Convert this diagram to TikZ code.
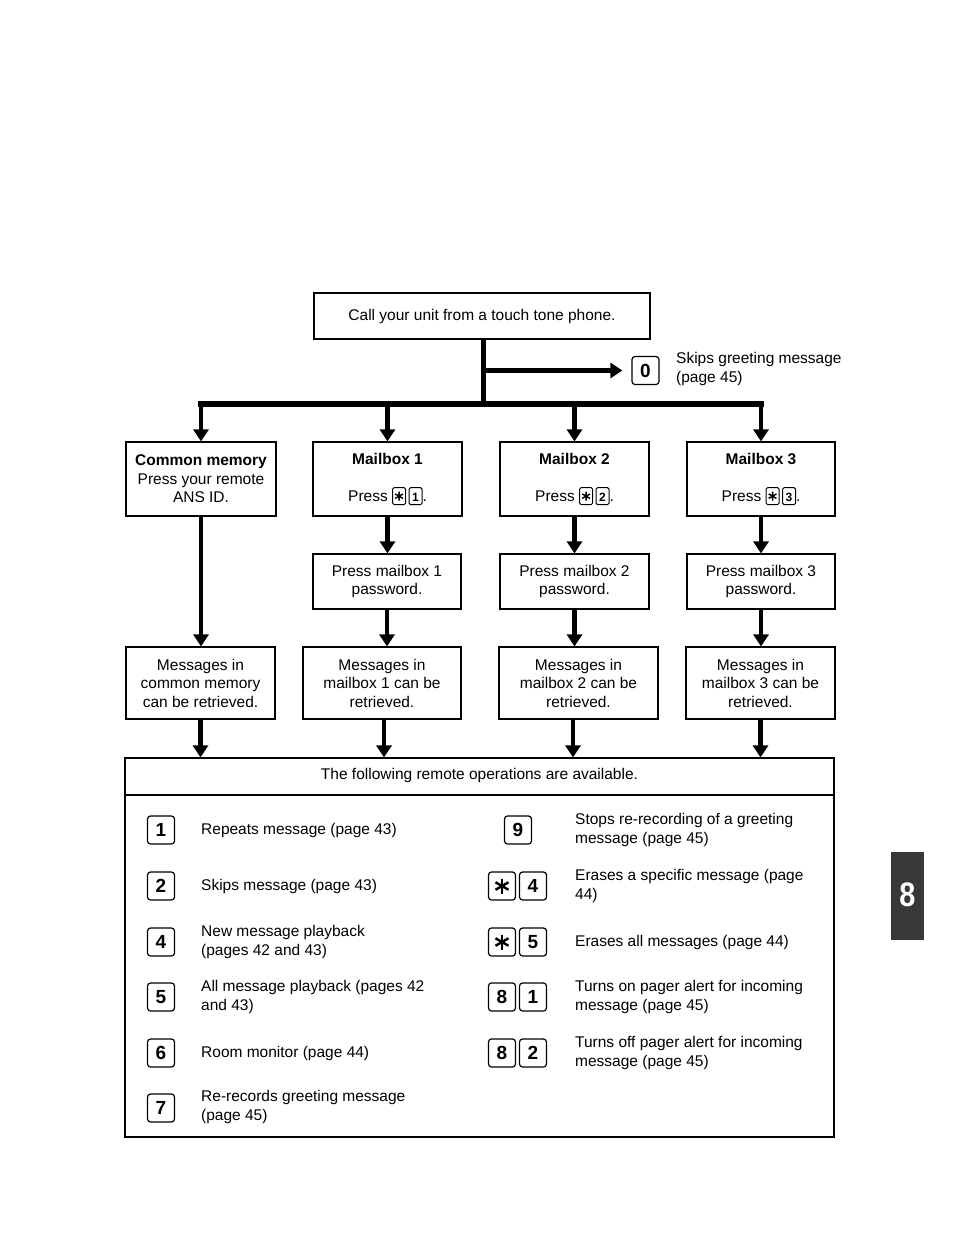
\documentclass[tikz,border=0pt]{standalone}
\usepackage{fontspec}
\setmainfont{Liberation Sans}
\usetikzlibrary{arrows.meta}

\newcommand{\fs}{\fontsize{15.5}{18.5}\selectfont}
\newcommand{\skey}[1]{\raisebox{-4pt}{\tikz[x=1pt,y=1pt]\draw[rounded corners=1.5pt,line width=0.9pt] (0,0) rectangle (13,17);}\hspace{-13.45pt}\makebox[13pt][c]{\bfseries\fontsize{12}{12}\selectfont #1}\hspace{0.45pt}}
\newcommand{\sast}{\raisebox{-4pt}{\tikz[x=1pt,y=1pt]{\draw[rounded corners=1.5pt,line width=0.9pt] (0,0) rectangle (13,17);
 \draw[line width=1.4pt] (6.5,4) -- (6.5,13) (2.6,6.25) -- (10.4,10.75) (2.6,10.75) -- (10.4,6.25);}}}

\begin{document}
\begin{tikzpicture}[x=1pt,y=-1pt,
 box/.style={draw,line width=1.1pt,inner sep=0pt,align=center,font=\fs},
 arr/.style={line width=4.5pt,-{Triangle[width=15pt,length=12pt]}},
 barline/.style={line width=5pt,line cap=rect},
 key/.style={draw,line width=1.2pt,rounded corners=3pt,minimum width=27pt,minimum height=28pt,inner sep=0pt,font=\bfseries\fontsize{19}{19}\selectfont},
 lbl/.style={anchor=west,align=left,font=\fs,inner sep=0pt},
 astline/.style={line width=2.4pt}]

\useasboundingbox (0,0) rectangle (954,1235);

% top
\node[box,minimum width=336pt,minimum height=46pt] (start) at (482,316) {Call your unit from a touch tone phone.};
\coordinate (jn) at (483,370.5);
\coordinate (jb) at (483,404);
\node[key] (k0) at (645.5,370.5) {0};
\node[lbl] (t0) at (676,369) {Skips greeting message\\(page 45)};

% row 1
\node[box,minimum width=150pt,minimum height=74pt] (cm) at (201,479) {\textbf{Common memory}\\Press your remote\\ANS ID.};
\node[box,minimum width=149pt,minimum height=74pt] (mb1) at (387.5,479) {\textbf{Mailbox 1}\\[18.5pt]Press \sast\,\skey{1}.};
\node[box,minimum width=149pt,minimum height=74pt] (mb2) at (574.5,479) {\textbf{Mailbox 2}\\[18.5pt]Press \sast\,\skey{2}.};
\node[box,minimum width=148pt,minimum height=74pt] (mb3) at (761,479) {\textbf{Mailbox 3}\\[18.5pt]Press \sast\,\skey{3}.};

% row 2
\node[box,minimum width=148pt,minimum height=55pt] (pw1) at (387,581.5) {Press mailbox 1\\password.};
\node[box,minimum width=149pt,minimum height=55pt] (pw2) at (574.5,581.5) {Press mailbox 2\\password.};
\node[box,minimum width=148pt,minimum height=55pt] (pw3) at (761,581.5) {Press mailbox 3\\password.};

% row 3
\node[box,minimum width=149pt,minimum height=72pt] (r3c) at (200.5,683) {Messages in\\common memory\\can be retrieved.};
\node[box,minimum width=158pt,minimum height=72pt] (r3a) at (382,683) {Messages in\\mailbox 1 can be\\retrieved.};
\node[box,minimum width=159pt,minimum height=72pt] (r3b) at (578.5,683) {Messages in\\mailbox 2 can be\\retrieved.};
\node[box,minimum width=149pt,minimum height=72pt] (r3d) at (760.5,683) {Messages in\\mailbox 3 can be\\retrieved.};

% operations box
\node[box,minimum width=709pt,minimum height=379pt] (ops) at (479.5,947.5) {};
\node[font=\fs,inner sep=0pt] (hdr) at (479.5,775) {The following remote operations are available.};
\coordinate (hl) at (0,795);
\draw[line width=1.1pt] (ops.west |- hl) -- (ops.east |- hl);

% connectors top
\draw[barline,line cap=butt] (jn |- start.south) -- (jb);
\draw[arr,line width=5pt,shorten >=9pt] (jn) -- (jn -| k0.west);
\draw[barline,line width=5.5pt] (cm.north |- jb) -- (mb3.north |- jb);
\draw[arr] (cm.north |- jb) -- (cm.north);
\draw[arr] (mb1.north |- jb) -- (mb1.north);
\draw[arr] (mb2.north |- jb) -- (mb2.north);
\draw[arr] (mb3.north |- jb) -- (mb3.north);

% columns
\draw[arr] (cm.south) -- (cm.south |- r3c.north);
\draw[arr] (mb1.south) -- (mb1.south |- pw1.north);
\draw[arr] (mb2.south) -- (mb2.south |- pw2.north);
\draw[arr] (mb3.south) -- (mb3.south |- pw3.north);
\draw[arr] (pw1.south) -- (pw1.south |- r3a.north);
\draw[arr] (pw2.south) -- (pw2.south |- r3b.north);
\draw[arr] (pw3.south) -- (pw3.south |- r3d.north);

% to operations
\draw[arr] (r3c.south) -- (r3c.south |- ops.north);
\draw[arr] ([xshift=2pt]r3a.south) -- ([xshift=2pt]r3a.south |- ops.north);
\draw[arr] ([xshift=-5.5pt]r3b.south) -- ([xshift=-5.5pt]r3b.south |- ops.north);
\draw[arr] (r3d.south) -- (r3d.south |- ops.north);

% left list
\node[key] (kl1) at (161,830) {1};
\node[lbl] (tl1) at (201,830) {Repeats message (page 43)};
\node[key] (kl2) at (161,886) {2};
\node[lbl] (tl2) at (201,886) {Skips message (page 43)};
\node[key] (kl4) at (161,942) {4};
\node[lbl] (tl4) at (201,942) {New message playback\\(pages 42 and 43)};
\node[key] (kl5) at (161,997) {5};
\node[lbl] (tl5) at (201,997) {All message playback (pages 42\\and 43)};
\node[key] (kl6) at (161,1053) {6};
\node[lbl] (tl6) at (201,1053) {Room monitor (page 44)};
\node[key] (kl7) at (161,1108) {7};
\node[lbl] (tl7) at (201,1107) {Re-records greeting message\\(page 45)};

% right list
\node[key] (kr9) at (518,830) {9};
\node[lbl] (tr9) at (575,830) {Stops re-recording of a greeting\\message (page 45)};
\node[key] (kr4a) at (502,886) {};
\node[key] (kr4b) at (533,886) {4};
\node[lbl] (tr4) at (575,886) {Erases a specific message (page\\44)};
\node[key] (kr5a) at (502,942) {};
\node[key] (kr5b) at (533,942) {5};
\node[lbl] (tr5) at (575,942) {Erases all messages (page 44)};
\node[key] (kr81a) at (502,997) {8};
\node[key] (kr81b) at (533,997) {1};
\node[lbl] (tr81) at (575,997) {Turns on pager alert for incoming\\message (page 45)};
\node[key] (kr82a) at (502,1053) {8};
\node[key] (kr82b) at (533,1053) {2};
\node[lbl] (tr82) at (575,1053) {Turns off pager alert for incoming\\message (page 45)};

\foreach \n in {kr4a,kr5a}{
 \draw[astline] (\n.center) ++(0,-7.5) -- ++(0,15);
 \draw[astline] (\n.center) ++(-6.5,-3.75) -- ++(13,7.5);
 \draw[astline] (\n.center) ++(-6.5,3.75) -- ++(13,-7.5);
}

% side tab
\fill[black!78] (891,852) rectangle (924,940);
\node[text=white,font=\bfseries\fontsize{34}{34}\selectfont,xscale=0.85,inner sep=0pt] (tab8) at (907.5,895) {8};
\end{tikzpicture}
\end{document}
